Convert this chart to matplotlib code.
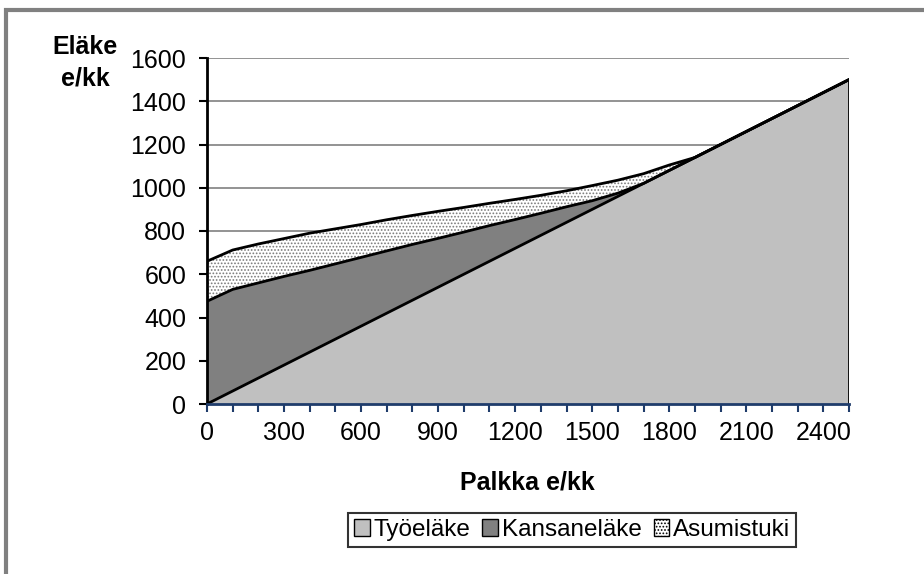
import matplotlib.pyplot as plt
from matplotlib.patches import Patch, Rectangle
import numpy as np

plt.rcParams['font.family'] = ['Liberation Sans', 'DejaVu Sans']
plt.rcParams['hatch.color'] = '#7a7a7a'
plt.rcParams['hatch.linewidth'] = 0.8

# salary categories, e/kk
palkka = list(range(0, 2600, 100))

# pension components, e/kk
tyoelake = [0, 60, 120, 180, 240, 300, 360, 420, 480, 540, 600, 660, 720,
            780, 840, 900, 960, 1020, 1080, 1140, 1200, 1260, 1320, 1380,
            1440, 1500]
kansanelake = [475, 470, 440, 410, 378, 348, 318, 288, 258, 226, 195, 165,
               133, 102, 72, 40, 15, 0, 0, 0, 0, 0, 0, 0, 0, 0]
asumistuki = [185, 182, 180, 175, 172, 162, 152, 144, 134, 125, 114, 103,
              93, 83, 74, 70, 60, 45, 25, 0, 0, 0, 0, 0, 0, 0]

x = np.array(palkka)
l1 = np.array(tyoelake)
l2 = l1 + np.array(kansanelake)
l3 = l2 + np.array(asumistuki)

fig = plt.figure(figsize=(9.24, 5.74), dpi=100)
ax = fig.add_axes([207/924, 1 - 404/574, 642/924, 346/574])

# horizontal grid
for v in range(200, 1601, 200):
    ax.axhline(v, color='#808080', lw=1.2, zorder=0)

ax.fill_between(x, 0, l1, facecolor='#c0c0c0', edgecolor='none', zorder=2)
ax.fill_between(x, l1, l2, facecolor='#808080', edgecolor='none', zorder=2)
ax.fill_between(x, l2, l3, facecolor='white', edgecolor='#7a7a7a',
                linewidth=0, hatch='.....', zorder=2)

ax.plot(x, l3, color='black', lw=2, zorder=3)
ax.plot(x, l2, color='black', lw=2, zorder=3)
ax.plot(x, l1, color='black', lw=2, zorder=3)
ax.plot([2500, 2500], [0, 1500], color='black', lw=2, zorder=3)

ax.set_xlim(0, 2500)
ax.set_ylim(0, 1600)
ax.set_xticks(palkka)
ax.set_xticklabels([str(p) if p % 300 == 0 else '' for p in palkka])
ax.set_yticks(range(0, 1601, 200))

for s in ['top', 'right']:
    ax.spines[s].set_visible(False)
ax.spines['left'].set_linewidth(2)
ax.spines['left'].set_zorder(4)
ax.spines['bottom'].set_color('#1f3c6b')
ax.spines['bottom'].set_linewidth(2)
ax.spines['bottom'].set_zorder(4)

ax.tick_params(axis='x', direction='out', length=6, width=1.5,
               color='#1f3c6b', labelsize=18, pad=6)
ax.tick_params(axis='y', direction='out', length=6, width=1.5,
               color='black', labelsize=18, pad=9)

fig.text(85/924, 1 - 63/574, 'Eläke\ne/kk', ha='center', va='center',
         fontsize=18, fontweight='bold', linespacing=1.4)
fig.text(527/924, 1 - 482/574, 'Palkka e/kk', ha='center', va='center',
         fontsize=18, fontweight='bold')

handles = [Patch(facecolor='#c0c0c0', edgecolor='black', label='Työeläke'),
           Patch(facecolor='#808080', edgecolor='black', label='Kansaneläke'),
           Patch(facecolor='white', edgecolor='black', hatch='.....',
                 label='Asumistuki')]
leg = fig.legend(handles=handles, loc='center',
                 bbox_to_anchor=(572/924, 1 - 530/574), ncol=3,
                 fontsize=17.5, frameon=True, fancybox=False,
                 handlelength=0.65, handleheight=0.65, handletextpad=0.15,
                 columnspacing=0.5, borderpad=0.25, borderaxespad=0)
leg.get_frame().set_edgecolor('black')
leg.get_frame().set_linewidth(1.5)

# outer chart border
fig.patches.append(Rectangle((5.5/924, -0.1), 2, 1.1 - 10.5/574,
                             transform=fig.transFigure, fill=False,
                             edgecolor='#808080', linewidth=3))

fig.savefig('out.png', dpi=100)
